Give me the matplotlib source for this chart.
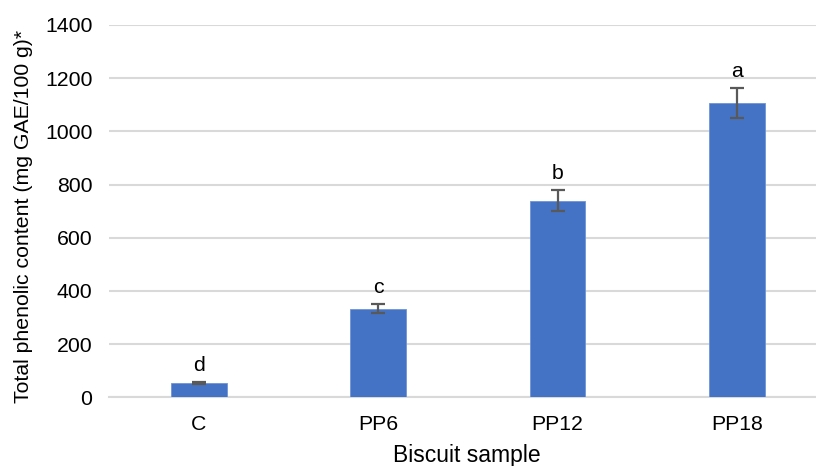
import matplotlib.pyplot as plt

plt.rcParams["font.family"] = ["Liberation Sans", "DejaVu Sans"]

# Data
samples = ["C", "PP6", "PP12", "PP18"]
phenolic = [54, 333, 740, 1108]
phenolic_err = [5, 17, 38, 56]
letters = ["d", "c", "b", "a"]

bar_colour = "#4472C4"
grid_colour = "#D9D9D9"
err_colour = "#595959"

fig = plt.figure(figsize=(8.16, 4.66), dpi=100)
ax = fig.add_axes([0.1336, 0.1474, 0.8664, 0.799])

xs = range(len(samples))
ax.bar(xs, phenolic, width=0.31, color=bar_colour, edgecolor="#6E94D6", linewidth=0.6, zorder=3)
ax.errorbar(xs, phenolic, yerr=phenolic_err, fmt="none", ecolor=err_colour,
            elinewidth=1.6, capsize=5, capthick=1.6, zorder=4)

for x, v, e, l in zip(xs, phenolic, phenolic_err, letters):
    ax.annotate(l, (x, v + e), xytext=(0, 5), textcoords="offset points",
                ha="center", va="bottom", fontsize=15.3)

ax.set_ylim(0, 1400)
ax.set_yticks(range(0, 1401, 200))
ax.set_xlim(-0.5, 3.44)
ax.set_xticks(list(xs))
ax.set_xticklabels(samples)

ax.grid(axis="y", color=grid_colour, linewidth=1.5, zorder=0)
for s in ["top", "right", "left"]:
    ax.spines[s].set_visible(False)
ax.spines["bottom"].set_color(grid_colour)
ax.spines["bottom"].set_linewidth(1.5)
ax.tick_params(axis="both", length=0, labelsize=15.3, colors="#000000")
ax.tick_params(axis="y", pad=12)
ax.tick_params(axis="x", pad=13)

ax.set_ylabel("Total phenolic content (mg GAE/100 g)*", fontsize=15.3)
ax.yaxis.set_label_coords(-0.108, 0.485)
ax.set_xlabel("Biscuit sample", fontsize=16.5)
ax.xaxis.set_label_coords(0.506, -0.126)

plt.savefig("out.png", dpi=100)
